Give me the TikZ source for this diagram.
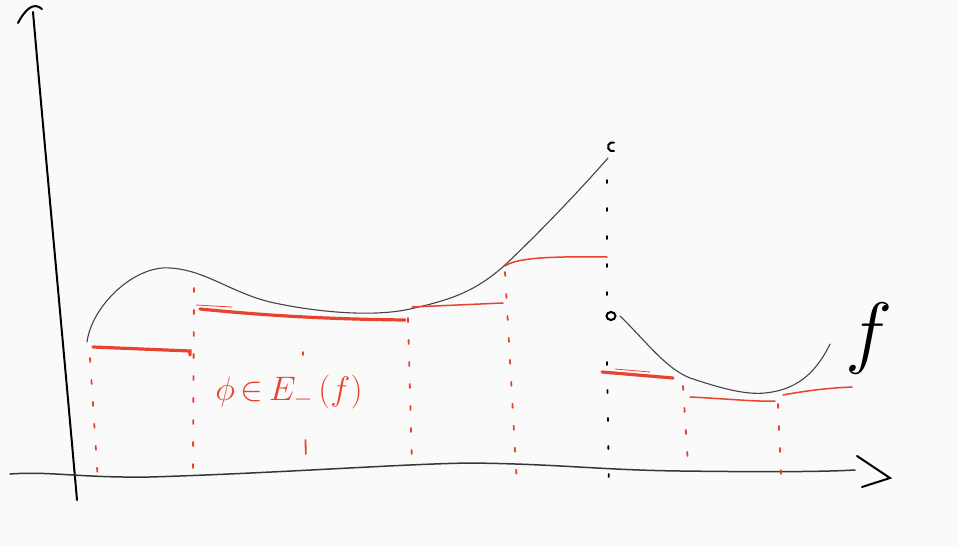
\documentclass[tikz,border=0pt]{standalone}
\usepackage{fix-cm}
\usepackage{amsmath,amssymb}
\usepackage{tikz}
\usetikzlibrary{arrows.meta,positioning}
\usepackage{xcolor}
\definecolor{paperwhite}{HTML}{FAFAFA}
\definecolor{stepred}{HTML}{E8432F}
\definecolor{inkgray}{HTML}{444444}

\begin{document}
\begin{tikzpicture}[x=1pt, y=-1pt,
  axisline/.style={draw=black, line width=2pt, line cap=round},
  graphline/.style={draw=inkgray, line width=1.1pt, line cap=round},
  stepthick/.style={draw=stepred, line width=3.2pt, line cap=round},
  stepthin/.style={draw=stepred, line width=1.5pt, line cap=round},
  redguide/.style={draw=stepred, line width=1.8pt, line cap=round,
                   dash pattern=on 4pt off 18pt},
  jumpguide/.style={draw=black, line width=1.8pt, line cap=round,
                    dash pattern=on 3pt off 25pt},
  label/.style={inner sep=0pt},
]
  %% Canvas
  \useasboundingbox[fill=paperwhite] (0,0) rectangle (958,546);

  %% Axes (hand drawn)
  \draw[axisline] (77,500) .. controls (62,330) and (45,150) .. (33,12);
  \draw[axisline] (18,23) .. controls (26,8) and (34,2) .. (42,9);
  \draw[axisline, draw=inkgray!80!black, line width=1.5pt]
    (10,474) .. controls (50,471) and (80,478) .. (150,477)
    .. controls (280,473) and (400,464) .. (470,463)
    .. controls (560,464) and (600,470) .. (680,471)
    .. controls (760,472) and (820,472) .. (855,470);
  \draw[axisline] (857,456) -- (890,478) -- (862,487);

  %% Graph of f, left branch up to the jump
  \draw[graphline] (87,342) .. controls (92,305) and (135,265) .. (170,268)
    .. controls (205,270) and (230,292) .. (270,302)
    .. controls (310,311) and (370,318) .. (410,309)
    .. controls (450,300) and (475,292) .. (505,265)
    .. controls (540,232) and (580,190) .. (608,158);
  \draw[graphline, draw=black, line width=2pt] (614,151) arc (70:290:4.5);

  %% Graph of f, right branch after the jump
  \draw[graphline, draw=black, line width=2pt] (611,316) ellipse (4.5 and 4);
  \draw[graphline] (620,316) .. controls (645,340) and (665,368) .. (690,378)
    .. controls (720,388) and (745,395) .. (765,393)
    .. controls (795,390) and (815,375) .. (830,344);

  %% Dotted line at the jump
  \draw[jumpguide] (607,180) -- (607,300);
  \draw[jumpguide] (607,362) -- (609,488);

  %% Step function below f
  \draw[stepthick] (93,347) -- (190,351) -- (190,355);
  \draw[stepthin, line width=0.8pt] (196,305) -- (232,307);
  \draw[stepthick] (200,309) .. controls (260,315) and (320,319) .. (405,320);
  \draw[stepthin] (412,307) -- (503,303);
  \draw[stepthin] (505,266) .. controls (515,259) and (540,256) .. (607,257);
  \draw[stepthick] (602,372) -- (673,378);
  \draw[stepthin, line width=0.8pt] (615,369) -- (650,372);
  \draw[stepthin] (690,397) .. controls (730,399) and (760,402) .. (775,401);
  \draw[stepthin] (783,395) .. controls (810,390) and (830,388) .. (852,387);

  %% Partition lines
  \draw[redguide] (90,358) -- (98,482);
  \draw[redguide] (194,288) -- (193,468);
  \draw[redguide, dash pattern=on 3pt off 85pt on 14pt off 60pt]
    (303,352) -- (306,460);
  \draw[redguide] (408,318) -- (412,466);
  \draw[redguide] (505,272) -- (517,485);
  \draw[redguide] (683,386) -- (688,465);
  \draw[redguide] (778,404) -- (781,476);

  %% Labels
  \node[label, text=stepred, font=\fontsize{34}{36}\selectfont] (phi)
    at (289,392) {$\phi\,{\in}\,E_{-}\,(f)$};
  \node[label, font=\fontsize{80}{82}\selectfont] (flabel)
    at (869,338) {$f$};
\end{tikzpicture}
\end{document}
